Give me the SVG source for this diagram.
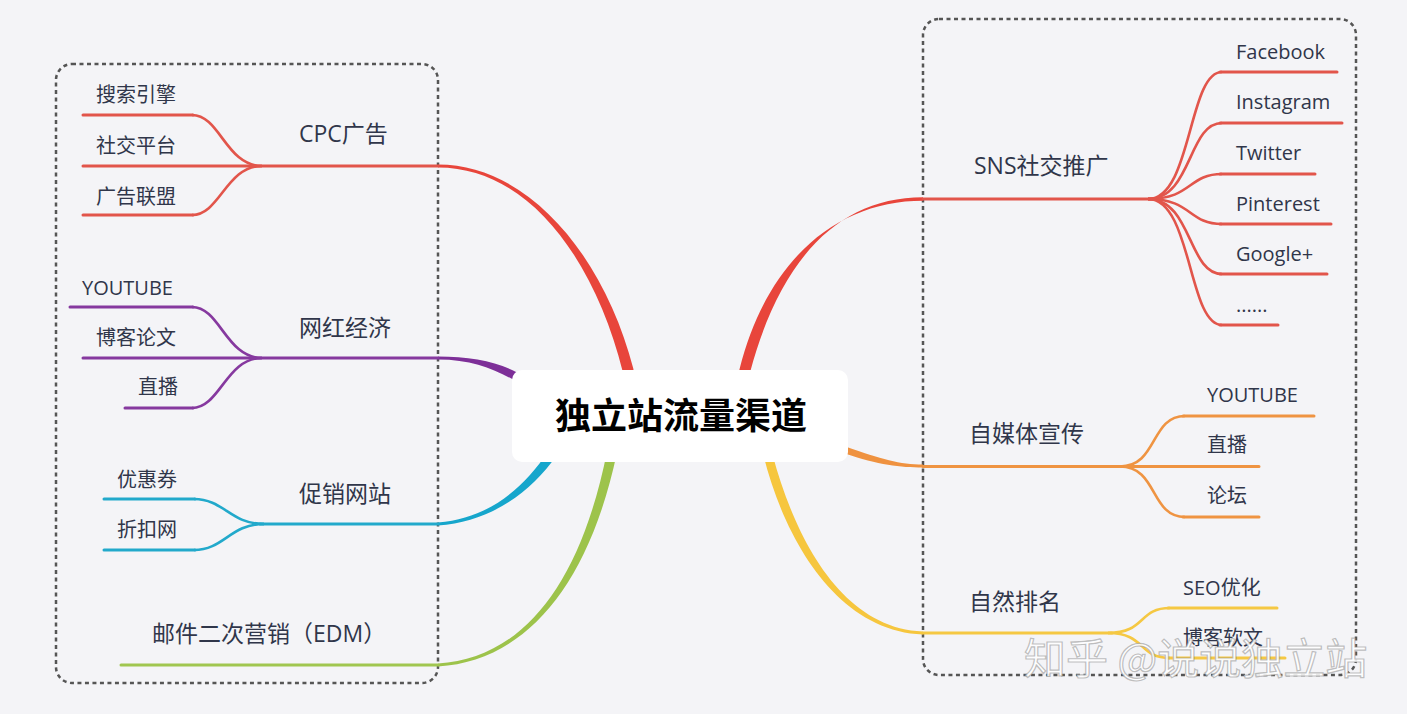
<svg xmlns="http://www.w3.org/2000/svg" width="1407" height="714" viewBox="0 0 1407 714">
<style>
text{font-family:"Open Sans","Noto Sans CJK SC",sans-serif;fill:#30364a}
.c{font-size:20px}
.m{font-size:23px}
.box{fill:none;stroke:#555;stroke-width:2.5;stroke-dasharray:4 3.5}
.ln{fill:none;stroke-width:3;stroke-linecap:round}
.ch{fill:none;stroke-width:2.6}
.red{stroke:#e2554b}.pur{stroke:#86399f}.blu{stroke:#22a9cb}.grn{stroke:#a0c650}.org{stroke:#ef9442}.yel{stroke:#f5c843}
</style>
<rect width="1407" height="714" fill="#f4f4f7"/>
<g id="boxes">
<rect class="box" x="56" y="64" width="382" height="619" rx="16"/>
<rect class="box" x="923" y="19" width="433" height="656" rx="16"/>
</g>
<g id="connectors">
<path fill="#e8453b" d="M 438 164.5 C 530 164.5, 605 258.6, 633.3 368.6 L 635 380 L 624 380 L 622.7 371.4 C 595 261.4, 530 167.5, 438 167.5 Z"/>
<path fill="#7d2f98" d="M 438 356.5 C 470 356.5, 497 361.5, 517 372.5 L 513 379.5 C 493 368.5, 470 359.5, 438 359.5 Z"/>
<path fill="#16a6cc" d="M 438 522.5 C 490 518.5, 524 487, 548.3 451.4 L 555.7 456.6 C 532 491, 492 521.5, 438 525.5 Z"/>
<path fill="#9dc34b" d="M 438 663.5 C 521 658.5, 580 587, 607.1 451 L 616.9 453 C 588 589, 523 661.5, 438 666.5 Z"/>
<path fill="#e8453b" d="M 923 197.3 C 838 197.3, 780 260, 750.3 371.5 L 748 382 L 737 380 L 739.7 368.5 C 768 258, 838 200.7, 923 200.7 Z"/>
<path fill="#ef9240" d="M 923 464.5 C 900 464.5, 881 459, 846.1 446.7 L 843.9 453.3 C 879 465, 900 467.5, 923 467.5 Z"/>
<path fill="#f6c63e" d="M 923 631.5 C 842 628.5, 795 539, 772.4 453.9 L 763.6 456.1 C 785 541, 838 631.5, 923 634.5 Z"/>
<path class="ln red" d="M 438 166 L 255 166"/>
<path class="ch red" d="M 262 166 C 226 166, 220 115, 192 115"/>
<path class="ch red" d="M 262 166 C 226 166, 220 215, 192 215"/>
<path class="ln red" d="M 193 115 L 83 115 M 255 166 L 83 166 M 193 215 L 83 215"/>
<path class="ln pur" d="M 438 358 L 255 358"/>
<path class="ch pur" d="M 262 358 C 226 358, 220 307, 192 307"/>
<path class="ch pur" d="M 262 358 C 226 358, 220 408, 192 408"/>
<path class="ln pur" d="M 193 307 L 70 307 M 255 358 L 83 358 M 193 408 L 125 408"/>
<path class="ln blu" d="M 438 524 L 260 524"/>
<path class="ch blu" d="M 264 524 C 230 524, 224 499, 194 499"/>
<path class="ch blu" d="M 264 524 C 230 524, 224 550, 194 550"/>
<path class="ln blu" d="M 195 499 L 104 499 M 195 550 L 104 550"/>
<path class="ln grn" d="M 438 665 L 121 665"/>
<path class="ln red" d="M 923 199 L 1155 199"/>
<path class="ch red" d="M 1148 199 C 1192 199, 1188 72, 1222 72"/>
<path class="ch red" d="M 1148 199 C 1192 199, 1188 123, 1222 123"/>
<path class="ch red" d="M 1148 199 C 1192 199, 1188 174, 1222 174"/>
<path class="ch red" d="M 1148 199 C 1192 199, 1188 224, 1222 224"/>
<path class="ch red" d="M 1148 199 C 1192 199, 1188 274, 1222 274"/>
<path class="ch red" d="M 1148 199 C 1192 199, 1188 325, 1222 325"/>
<path class="ln red" d="M 1220 72 L 1337 72 M 1220 123 L 1342 123 M 1220 174 L 1315 174 M 1220 224 L 1331 224 M 1220 274 L 1327 274 M 1220 325 L 1278 325"/>
<path class="ln org" d="M 923 466.5 L 1130 466.5"/>
<path class="ch org" d="M 1120 466.5 C 1158 466.5, 1150 416, 1185 416"/>
<path class="ch org" d="M 1120 466.5 C 1158 466.5, 1150 517, 1185 517"/>
<path class="ln org" d="M 1183 416 L 1314 416 M 1125 466.5 L 1259 466.5 M 1183 517 L 1259 517"/>
<path class="ln yel" d="M 923 633 L 1112 633"/>
<path class="ch yel" d="M 1108 633 C 1146 633, 1138 608, 1170 608"/>
<path class="ch yel" d="M 1108 633 C 1146 633, 1138 658, 1170 658"/>
<path class="ln yel" d="M 1168 608 L 1277 608 M 1168 658 L 1285 658"/>
</g>
<g id="center">
<rect x="512" y="370" width="336" height="92" rx="10" fill="#ffffff"/>
<text x="681" y="429" text-anchor="middle" style="font-family:'Noto Sans CJK SC',sans-serif;font-size:36px;font-weight:bold;fill:#000">独立站流量渠道</text>
</g>
<g id="cpc">
<text class="m" x="299" y="142">CPC广告</text>
<text class="c" x="96" y="102">搜索引擎</text>
<text class="c" x="96" y="153">社交平台</text>
<text class="c" x="96" y="204">广告联盟</text>
</g>
<g id="wanghong">
<text class="m" x="299" y="336">网红经济</text>
<text class="c" x="82" y="295">YOUTUBE</text>
<text class="c" x="96" y="345">博客论文</text>
<text class="c" x="138" y="394">直播</text>
</g>
<g id="cuxiao">
<text class="m" x="299" y="502">促销网站</text>
<text class="c" x="117" y="487">优惠券</text>
<text class="c" x="117" y="537">折扣网</text>
</g>
<g id="youjian">
<text class="m" x="152" y="642">邮件二次营销（EDM）</text>
</g>
<g id="sns">
<text class="m" x="974" y="174">SNS社交推广</text>
<text class="c" x="1236" y="59">Facebook</text>
<text class="c" x="1236" y="109">Instagram</text>
<text class="c" x="1236" y="160">Twitter</text>
<text class="c" x="1236" y="211">Pinterest</text>
<text class="c" x="1236" y="261">Google+</text>
<text class="c" x="1236" y="312">......</text>
</g>
<g id="zimeiti">
<text class="m" x="969" y="442">自媒体宣传</text>
<text class="c" x="1207" y="402">YOUTUBE</text>
<text class="c" x="1207" y="452">直播</text>
<text class="c" x="1207" y="503">论坛</text>
</g>
<g id="ziran">
<text class="m" x="969" y="610">自然排名</text>
<text class="c" x="1183" y="645">博客软文</text>
<text class="c" x="1183" y="595">SEO优化</text>
</g>
<g id="watermark">
<text x="1024" y="674" style="font-family:'Noto Sans CJK SC',sans-serif;font-size:42px;fill:#ffffff;fill-opacity:0.88;stroke:#8a8a8a;stroke-opacity:0.55;stroke-width:1.2">知乎 @说说独立站</text>
</g>
</svg>
